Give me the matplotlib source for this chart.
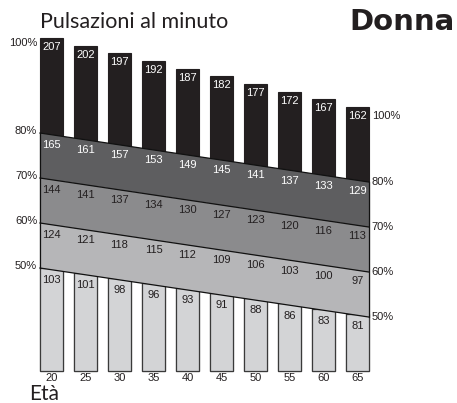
import matplotlib
matplotlib.use("Agg")
import matplotlib.pyplot as plt
from matplotlib.patches import Polygon

ages = [20, 25, 30, 35, 40, 45, 50, 55, 60, 65]
max_hr = [207, 202, 197, 192, 187, 182, 177, 172, 167, 162]
hr_80 = [165, 161, 157, 153, 149, 145, 141, 137, 133, 129]
hr_70 = [144, 141, 137, 134, 130, 127, 123, 120, 116, 113]
hr_60 = [124, 121, 118, 115, 112, 109, 106, 103, 100, 97]
hr_50 = [103, 101, 98, 96, 93, 91, 88, 86, 83, 81]
zone_pcts = [80, 70, 60, 50]
zone_values = [hr_80, hr_70, hr_60, hr_50]

ink = "#231f20"
band_colors = ["#5e5e60", "#8b8b8d", "#b6b6b8"]
low_color = "#d3d4d6"

# schematic layout: y is a "level" in percent, the zones slope down with age
bar_w = 3.38
x_left = ages[0] - bar_w / 2
x_right = ages[-1] + bar_w / 2
tilt = 0.2253
base = 27.1


def zone_level(pct, age):
    return pct - tilt * (age - x_left)


def top_level(hr):
    return 101.1 + 0.34 * (hr - max_hr[0])


fig = plt.figure(figsize=(4.57, 4.03), dpi=100)
ax = fig.add_axes([0, 0, 1, 1])
ax.set_xlim(12.43, 79.63)
ax.set_ylim(20, 109.56)
ax.axis("off")

# dark bars (full height), then light lower bars
tops = [top_level(h) for h in max_hr]
ax.bar(ages, [t - base for t in tops], bottom=base, width=bar_w,
       color=ink, edgecolor=ink, linewidth=0.8, zorder=1)
low_tops = [zone_level(50, a - bar_w / 2) for a in ages]
ax.bar(ages, [t - base for t in low_tops], bottom=base, width=bar_w,
       color=low_color, edgecolor="#3a3a3a", linewidth=0.9, zorder=2)

# zone bands
for i in range(3):
    hi, lo = zone_pcts[i], zone_pcts[i + 1]
    pts = [(x_left, zone_level(hi, x_left)), (x_right, zone_level(hi, x_right)),
           (x_right, zone_level(lo, x_right)), (x_left, zone_level(lo, x_left))]
    ax.add_patch(Polygon(pts, closed=True, facecolor=band_colors[i],
                         edgecolor="none", zorder=3))
for pct in zone_pcts:
    ax.plot([x_left, x_right], [zone_level(pct, x_left), zone_level(pct, x_right)],
            color="#111111", lw=0.9, zorder=4)
ax.plot([x_left, x_left], [zone_level(80, x_left), zone_level(50, x_left)],
        color="#111111", lw=0.9, zorder=4)
ax.plot([x_right, x_right], [zone_level(80, x_right), zone_level(50, x_right)],
        color="#111111", lw=0.9, zorder=4)

num_font = "Liberation Sans"
fs = 8
for i, a in enumerate(ages):
    ax.text(a, tops[i] - 2.0, str(max_hr[i]), color="white", fontsize=fs,
            family=num_font, ha="center", va="center", zorder=5)
    for k, pct in enumerate(zone_pcts):
        c = "white" if k == 0 else ink
        ax.text(a, zone_level(pct, a) - 2.3, str(zone_values[k][i]), color=c,
                fontsize=fs, family=num_font, ha="center", va="center", zorder=5)
    ax.text(a, 25.6, str(a), color=ink, fontsize=fs, family=num_font,
            ha="center", va="center")

# percent labels on both sides
ax.text(17.9, 100.0, "100%", color=ink, fontsize=fs, family=num_font,
        ha="right", va="center")
ax.text(67.1, tops[-1] - 2.0, "100%", color=ink, fontsize=fs, family=num_font,
        ha="left", va="center")
for pct in zone_pcts:
    ax.text(17.9, zone_level(pct, x_left) + 0.4, f"{pct}%", color=ink,
            fontsize=fs, family=num_font, ha="right", va="center")
    ax.text(67.1, zone_level(pct, x_right), f"{pct}%", color=ink,
            fontsize=fs, family=num_font, ha="left", va="center")

fig.text(40 / 457, 1 - 22 / 403, "Pulsazioni al minuto", family="Lato",
         fontsize=15.5, color=ink, ha="left", va="center")
fig.text(455 / 457, 1 - 22 / 403, "Donna", family="DejaVu Sans",
         fontweight="bold", fontsize=21, color=ink, ha="right", va="center")
fig.text(29 / 457, 1 - 394 / 403, "Età", family="Lato",
         fontsize=15, color=ink, ha="left", va="center")

fig.savefig("out.png", dpi=100)
